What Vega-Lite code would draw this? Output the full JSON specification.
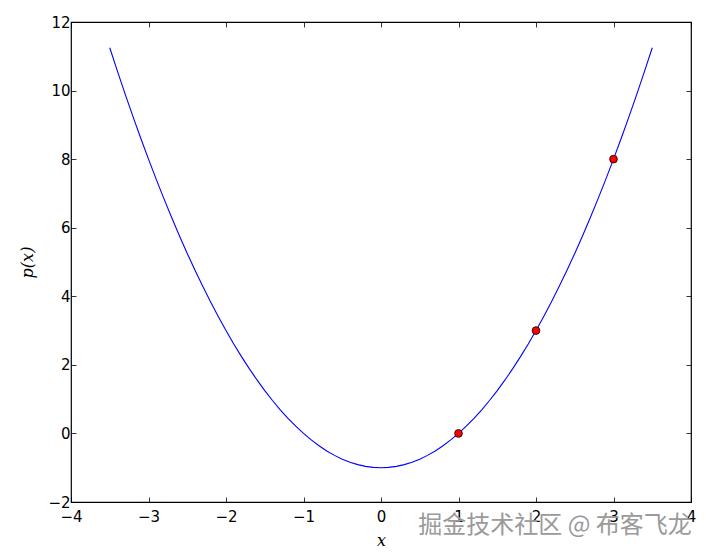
{
  "$schema": "https://vega.github.io/schema/vega-lite/v6.json",
  "width": 620,
  "height": 480,
  "autosize": {"type": "none"},
  "padding": {"left": 71, "top": 22, "right": 15, "bottom": 56},
  "background": "white",
  "config": {
    "view": {"stroke": "black", "strokeWidth": 1.2},
    "axis": {
      "grid": false,
      "domain": false,
      "tickColor": "black",
      "tickSize": -5,
      "tickWidth": 0.8,
      "labelFont": "DejaVu Sans",
      "labelFontSize": 15,
      "labelColor": "black",
      "titleFont": "DejaVu Serif",
      "titleFontStyle": "italic",
      "titleFontWeight": "normal",
      "titleFontSize": 16,
      "titleColor": "black"
    }
  },
  "title": {
    "text": "掘金技术社区 @ 布客飞龙",
    "orient": "bottom",
    "anchor": "end",
    "font": "Noto Sans CJK SC",
    "fontSize": 24,
    "fontWeight": "normal",
    "color": "#9a9a9a",
    "offset": -34,
    "dx": -4
  },
  "datasets": {
    "curve": [
      {"x": -3.5, "p": 11.25}, {"x": -3.4, "p": 10.56}, {"x": -3.3, "p": 9.89}, {"x": -3.2, "p": 9.24}, {"x": -3.1, "p": 8.61},
      {"x": -3.0, "p": 8}, {"x": -2.9, "p": 7.41}, {"x": -2.8, "p": 6.84}, {"x": -2.7, "p": 6.29}, {"x": -2.6, "p": 5.76},
      {"x": -2.5, "p": 5.25}, {"x": -2.4, "p": 4.76}, {"x": -2.3, "p": 4.29}, {"x": -2.2, "p": 3.84}, {"x": -2.1, "p": 3.41},
      {"x": -2.0, "p": 3}, {"x": -1.9, "p": 2.61}, {"x": -1.8, "p": 2.24}, {"x": -1.7, "p": 1.89}, {"x": -1.6, "p": 1.56},
      {"x": -1.5, "p": 1.25}, {"x": -1.4, "p": 0.96}, {"x": -1.3, "p": 0.69}, {"x": -1.2, "p": 0.44}, {"x": -1.1, "p": 0.21},
      {"x": -1.0, "p": 0}, {"x": -0.9, "p": -0.19}, {"x": -0.8, "p": -0.36}, {"x": -0.7, "p": -0.51}, {"x": -0.6, "p": -0.64},
      {"x": -0.5, "p": -0.75}, {"x": -0.4, "p": -0.84}, {"x": -0.3, "p": -0.91}, {"x": -0.2, "p": -0.96}, {"x": -0.1, "p": -0.99},
      {"x": 0, "p": -1},
      {"x": 0.1, "p": -0.99}, {"x": 0.2, "p": -0.96}, {"x": 0.3, "p": -0.91}, {"x": 0.4, "p": -0.84}, {"x": 0.5, "p": -0.75},
      {"x": 0.6, "p": -0.64}, {"x": 0.7, "p": -0.51}, {"x": 0.8, "p": -0.36}, {"x": 0.9, "p": -0.19}, {"x": 1.0, "p": 0},
      {"x": 1.1, "p": 0.21}, {"x": 1.2, "p": 0.44}, {"x": 1.3, "p": 0.69}, {"x": 1.4, "p": 0.96}, {"x": 1.5, "p": 1.25},
      {"x": 1.6, "p": 1.56}, {"x": 1.7, "p": 1.89}, {"x": 1.8, "p": 2.24}, {"x": 1.9, "p": 2.61}, {"x": 2.0, "p": 3},
      {"x": 2.1, "p": 3.41}, {"x": 2.2, "p": 3.84}, {"x": 2.3, "p": 4.29}, {"x": 2.4, "p": 4.76}, {"x": 2.5, "p": 5.25},
      {"x": 2.6, "p": 5.76}, {"x": 2.7, "p": 6.29}, {"x": 2.8, "p": 6.84}, {"x": 2.9, "p": 7.41}, {"x": 3.0, "p": 8},
      {"x": 3.1, "p": 8.61}, {"x": 3.2, "p": 9.24}, {"x": 3.3, "p": 9.89}, {"x": 3.4, "p": 10.56}, {"x": 3.5, "p": 11.25}
    ],
    "pts": [
      {"x": 1, "p": 0},
      {"x": 2, "p": 3},
      {"x": 3, "p": 8}
    ]
  },
  "layer": [
    {
      "data": {"name": "curve"},
      "mark": {"type": "line", "color": "#0000ff", "strokeWidth": 1.1, "clip": true},
      "encoding": {
        "x": {
          "field": "x", "type": "quantitative",
          "scale": {"domain": [-4, 4], "nice": false, "zero": false},
          "axis": {"orient": "bottom", "values": [-4, -3, -2, -1, 0, 1, 2, 3, 4], "title": "x", "labelPadding": 12, "titlePadding": 8, "labelFlush": false}
        },
        "y": {
          "field": "p", "type": "quantitative",
          "scale": {"domain": [-2, 12], "nice": false, "zero": false},
          "axis": {"orient": "left", "values": [-2, 0, 2, 4, 6, 8, 10, 12], "title": "p(x)", "labelPadding": 6, "titlePadding": 12, "labelFlush": false}
        }
      }
    },
    {
      "data": {"name": "pts"},
      "mark": {"type": "point", "filled": true, "fill": "#ff0000", "stroke": "black", "strokeWidth": 0.8, "size": 60, "opacity": 1},
      "encoding": {
        "x": {
          "field": "x", "type": "quantitative",
          "scale": {"domain": [-4, 4], "nice": false, "zero": false},
          "axis": {"orient": "top", "values": [-4, -3, -2, -1, 0, 1, 2, 3, 4], "labels": false, "title": null}
        },
        "y": {
          "field": "p", "type": "quantitative",
          "scale": {"domain": [-2, 12], "nice": false, "zero": false},
          "axis": {"orient": "right", "values": [-2, 0, 2, 4, 6, 8, 10, 12], "labels": false, "title": null}
        }
      }
    }
  ],
  "resolve": {"axis": {"x": "independent", "y": "independent"}}
}
